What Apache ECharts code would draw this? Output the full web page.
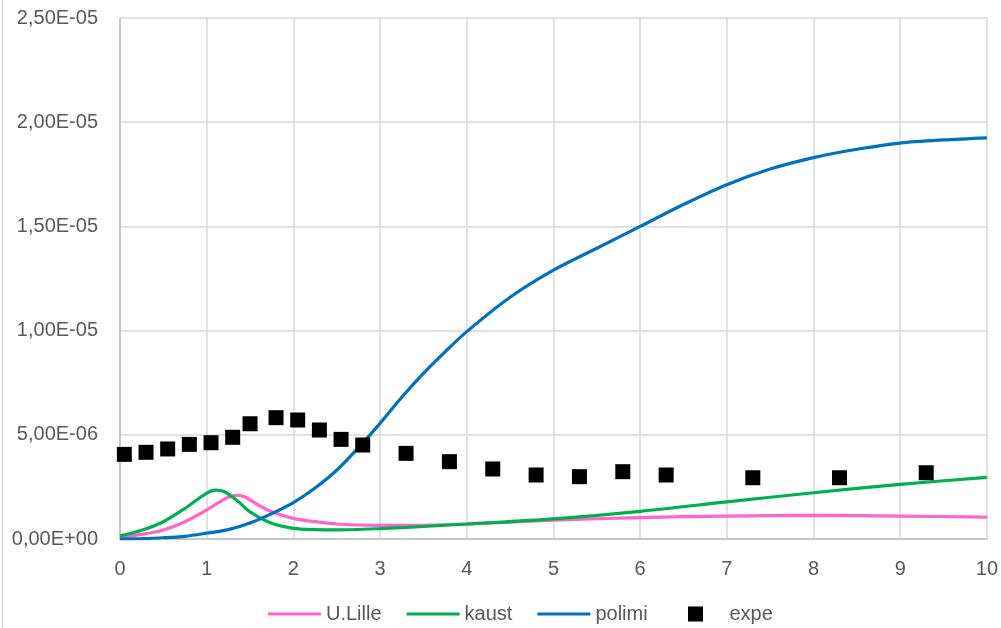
<!DOCTYPE html>
<html>
<head>
<meta charset="utf-8">
<script src="https://cdn.jsdelivr.net/npm/echarts@6/dist/echarts.min.js"></script>
<style>
  html, body { margin: 0; padding: 0; background: #ffffff; }
  #chart { width: 1001px; height: 628px; }
</style>
</head>
<body>
<div id="chart"></div>
<script>
// Values are given in units of 1e-6
const UNIT = 1e-6;

const xTicks = [0, 1, 2, 3, 4, 5, 6, 7, 8, 9, 10];
const yTicks = [0, 5, 10, 15, 20, 25];

const lilleX = [0, 0.25, 0.5, 0.75, 1, 1.15, 1.25, 1.35, 1.45, 1.6, 1.75, 2, 2.25, 2.5, 3, 3.5, 4, 5, 6, 7, 8, 9, 10];
const lilleY = [0.08, 0.22, 0.43, 0.83, 1.39, 1.78, 2.0, 2.1, 2.0, 1.62, 1.31, 0.99, 0.83, 0.72, 0.65, 0.66, 0.72, 0.9, 1.03, 1.1, 1.13, 1.1, 1.05];

const kaustX = [0, 0.25, 0.5, 0.75, 1, 1.1, 1.2, 1.35, 1.5, 1.75, 2, 2.25, 2.5, 3, 3.5, 4, 5, 6, 7, 8, 9, 10];
const kaustY = [0.15, 0.42, 0.83, 1.47, 2.2, 2.35, 2.28, 1.85, 1.3, 0.75, 0.51, 0.45, 0.44, 0.5, 0.6, 0.72, 0.97, 1.33, 1.78, 2.22, 2.62, 2.96];

const polimiX = [0, 0.25, 0.5, 0.75, 1, 1.25, 1.5, 1.75, 2, 2.25, 2.5, 2.75, 3, 3.25, 3.5, 3.75, 4, 4.5, 5, 5.5, 6, 6.5, 7, 7.5, 8, 8.5, 9, 9.5, 10];
const polimiY = [0, 0.02, 0.06, 0.13, 0.28, 0.45, 0.77, 1.22, 1.75, 2.45, 3.3, 4.38, 5.55, 6.8, 7.95, 8.98, 9.95, 11.6, 12.9, 13.95, 15.0, 16.05, 17.0, 17.75, 18.3, 18.7, 19.0, 19.15, 19.25];

const expeX = [0.05, 0.3, 0.55, 0.8, 1.05, 1.3, 1.5, 1.8, 2.05, 2.3, 2.55, 2.8, 3.3, 3.8, 4.3, 4.8, 5.3, 5.8, 6.3, 7.3, 8.3, 9.3];
const expeY = [4.06, 4.16, 4.32, 4.54, 4.62, 4.88, 5.53, 5.82, 5.71, 5.23, 4.78, 4.51, 4.11, 3.71, 3.36, 3.07, 2.99, 3.23, 3.07, 2.94, 2.94, 3.18];

function pairs(xs, ys) {
  return xs.map((x, i) => [x, ys[i] * UNIT]);
}

// Scientific labels with comma decimals, e.g. 2,50E-05
function sciLabel(v) {
  if (Math.abs(v) < 1e-15) return '0,00E+00';
  const s = v.toExponential(2);
  const parts = s.split('e');
  const mant = parts[0].replace('.', ',');
  const exp = parseInt(parts[1], 10);
  const sign = exp < 0 ? '-' : '+';
  const mag = String(Math.abs(exp)).padStart(2, '0');
  return mant + 'E' + sign + mag;
}

const FONT = 'Liberation Sans';
const FONT_SIZE = 20;
const TEXT = '#595959';

const chart = echarts.init(document.getElementById('chart'), null, { renderer: 'canvas' });

const lineStyleFor = (color) => ({ color: color, width: 3.2 });

chart.setOption({
  animation: false,
  backgroundColor: '#ffffff',
  grid: { left: 120, right: 14, top: 18, bottom: 89, containLabel: false },
  xAxis: {
    type: 'value',
    min: xTicks[0],
    max: xTicks[xTicks.length - 1],
    interval: xTicks[1] - xTicks[0],
    axisLine: { show: true, lineStyle: { color: '#BFBFBF', width: 1.5 } },
    axisTick: { show: false },
    splitLine: { show: true, lineStyle: { color: '#D9D9D9', width: 1.5 } },
    axisLabel: { color: TEXT, fontFamily: FONT, fontSize: FONT_SIZE, margin: 20 }
  },
  yAxis: {
    type: 'value',
    min: yTicks[0] * UNIT,
    max: yTicks[yTicks.length - 1] * UNIT,
    interval: (yTicks[1] - yTicks[0]) * UNIT,
    axisLine: { show: true, lineStyle: { color: '#BFBFBF', width: 1.5 } },
    axisTick: { show: false },
    splitLine: { show: true, lineStyle: { color: '#D9D9D9', width: 1.5 } },
    axisLabel: { color: TEXT, fontFamily: FONT, fontSize: FONT_SIZE, margin: 22, formatter: sciLabel }
  },
  legend: [
    {
      data: [
        { name: 'U.Lille', icon: 'rect' },
        { name: 'kaust', icon: 'rect' },
        { name: 'polimi', icon: 'rect' }
      ],
      left: 263,
      top: 599,
      itemWidth: 53,
      itemHeight: 3,
      itemGap: 25,
      textStyle: { color: TEXT, fontFamily: FONT, fontSize: FONT_SIZE }
    },
    {
      data: [{ name: 'expe', icon: 'path://M0,0L10,0L10,10L0,10Z' }],
      left: 683,
      top: 599,
      itemWidth: 58,
      itemHeight: 15,
      textStyle: { color: TEXT, fontFamily: FONT, fontSize: FONT_SIZE }
    }
  ],
  graphic: [
    {
      type: 'line',
      shape: { x1: 2.5, y1: 0, x2: 2.5, y2: 628 },
      style: { stroke: '#D9D9D9', lineWidth: 1.5 },
      silent: true
    }
  ],
  series: [
    {
      name: 'U.Lille', type: 'line', data: pairs(lilleX, lilleY),
      smooth: 0.3, showSymbol: false, symbol: 'none',
      lineStyle: lineStyleFor('#FF66CC'), itemStyle: { color: '#FF66CC' }, z: 2
    },
    {
      name: 'kaust', type: 'line', data: pairs(kaustX, kaustY),
      smooth: 0.3, showSymbol: false, symbol: 'none',
      lineStyle: lineStyleFor('#00B050'), itemStyle: { color: '#00B050' }, z: 3
    },
    {
      name: 'polimi', type: 'line', data: pairs(polimiX, polimiY),
      smooth: 0.3, showSymbol: false, symbol: 'none',
      lineStyle: lineStyleFor('#0070C0'), itemStyle: { color: '#0070C0' }, z: 4
    },
    {
      name: 'expe', type: 'scatter', data: pairs(expeX, expeY),
      symbol: 'rect', symbolSize: 15,
      itemStyle: { color: '#000000', opacity: 1 }, z: 5
    }
  ]
});
</script>
</body>
</html>
